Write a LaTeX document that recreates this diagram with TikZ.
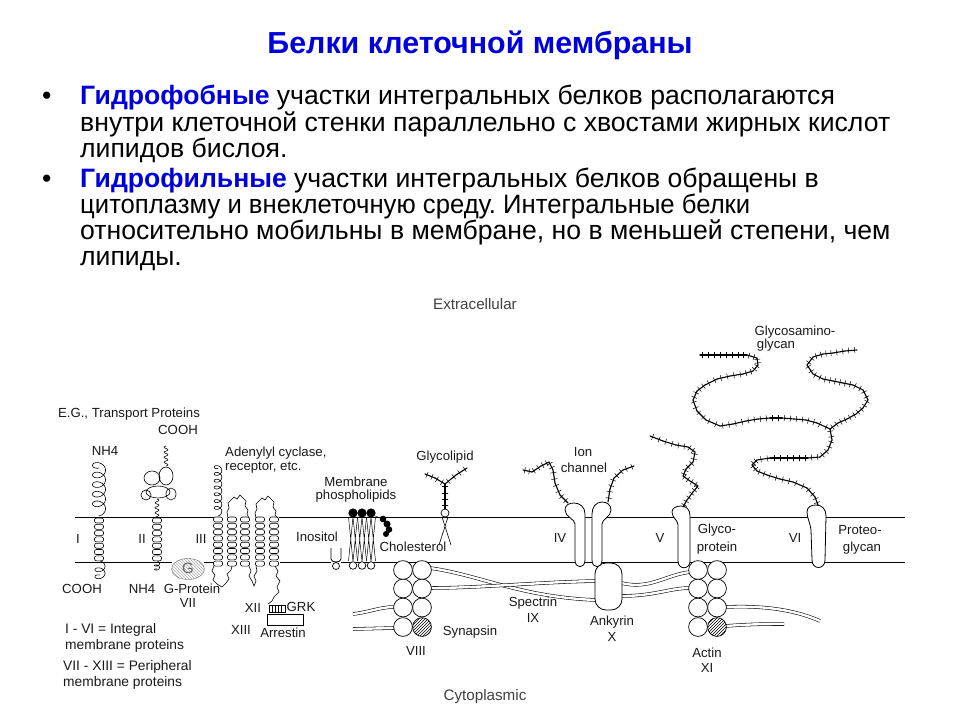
\documentclass[tikz,border=0pt]{standalone}
\usepackage{fontspec}
\setmainfont{Liberation Sans}
\usetikzlibrary{patterns}
\frenchspacing
\definecolor{hlblue}{RGB}{0,0,220}
% stack of helix turns: x, top y, number of turns
\newcommand{\helix}[3]{\foreach \k in {1,...,#3}{\draw[fill=white,line width=0.6pt,rounded corners=2pt] (#1-4.5,#2+6.3*\k-6.3) rectangle ++(9,5);}}
% sugar chain with side ticks, points given as {x,y},{x,y},...
\newcommand{\chain}[1]{\foreach \p [remember=\p as \q (initially {0,0}),count=\i] in {#1}{\ifnum\i>1 \draw[chainline] (\q) -- (\p) node[sugartick,pos=.3]{} node[sugartick,pos=.8]{};\fi}}
\begin{document}
\begin{tikzpicture}
	[x=1pt,y=-1pt,
	lbl/.style={font=\fontsize{13.2}{14}\selectfont,text=black!90,inner sep=0pt},
	body/.style={font=\fontsize{26.6}{28}\selectfont,anchor=base west,inner sep=0pt},
	coilline/.style={line width=0.6pt},
	chainline/.style={line width=1.1pt,line cap=round},
	sugartick/.style={draw,line width=0.5pt,rectangle,inner sep=0pt,minimum width=0pt,minimum height=6pt,sloped},
	fiber/.style={double=white,double distance=2.4pt,line width=0.55pt},
	rod/.style={fill=white,line width=0.8pt},
	bead/.style={fill=white,line width=0.7pt}]
    \useasboundingbox (0,0) rectangle (960,720);
    % title and text
    \node[font=\fontsize{30.4}{32}\selectfont\bfseries,text=hlblue] (title) at (480,45) {Белки клеточной мембраны};
    \node[body] (b1) at (42,104) {•};
    \node[body] (t1) at (80,104) {{\color{hlblue}\textbf{Гидрофобные}} участки интегральных белков располагаются};
    \node[body] (t2) at (80,131) {внутри клеточной стенки параллельно с хвостами жирных кислот};
    \node[body] (t3) at (80,157) {липидов бислоя.};
    \node[body] (b2) at (42,187) {•};
    \node[body] (t4) at (80,187) {{\color{hlblue}\textbf{Гидрофильные}} участки интегральных белков обращены в};
    \node[body,xscale=0.965,transform shape] (t5) at (80,213) {цитоплазму и внеклеточную среду. Интегральные белки};
    \node[body] (t6) at (80,239) {относительно мобильны в мембране, но в меньшей степени, чем};
    \node[body] (t7) at (80,265) {липиды.};
    % membrane
    \draw[line width=0.8pt] (75,517) -- (214,517) (279,517) -- (905,517);
    \draw[line width=0.8pt] (75,562) -- (172,562) (204,562) -- (214,562) (280,562) -- (331,562) (341,562) -- (905,562);
    % spectrin fibres
    \draw[fiber] (430,568) .. controls (480,575) and (520,597) .. (596,600);
    \draw[fiber] (430,588) .. controls (480,588) and (540,582) .. (596,581);
    \draw[fiber] (621,583) .. controls (650,590) and (665,575) .. (690,572);
    \draw[fiber] (621,596) .. controls (655,596) and (670,588) .. (690,588);
    \draw[fiber] (353,614) .. controls (370,612) and (380,607) .. (394,607);
    \draw[fiber] (353,629) -- (394,628);
    \draw[fiber] (726,607) .. controls (770,605) and (800,612) .. (820,621);
    \draw[fiber] (726,626) .. controls (750,624) and (770,624) .. (784,624);
    % synapsin and actin
    \foreach \cx in {403,422}{\foreach \cy in {570,588.5,607.5,627}{\draw[bead] (\cx,\cy) circle (9.4);}}
    \fill[pattern=north east lines] (422,627) circle (9.4);
    \foreach \cx in {698,717}{\foreach \cy in {570,588.5,607.5,627}{\draw[bead] (\cx,\cy) circle (9.4);}}
    \fill[pattern=north east lines] (717,627) circle (9.4);
    % ankyrin
    \draw[rod,rounded corners=11pt] (595,563) rectangle (622,610);
    % ion channel, glycoprotein, proteoglycan
    \draw[rod] (575,560) -- (575,524) .. controls (575,519) and (565,517) .. (565,510) .. controls (565,505) and (569,503) .. (574,503) .. controls (580,503) and (585,507) .. (585,514) -- (585,560) .. controls (585,569) and (575,569) .. (575,560) -- cycle;
    \draw[rod] (602,560) -- (602,524) .. controls (602,519) and (611,517) .. (611,510) .. controls (611,505) and (607,502) .. (602,502) .. controls (596,502) and (592,507) .. (592,514) -- (592,560) .. controls (592,569) and (602,569) .. (602,560) -- cycle;
    \draw[rod] (678,561) -- (678,525) .. controls (678,520) and (672,518) .. (672,512) .. controls (672,508) and (676,506) .. (681,506) .. controls (687,506) and (690,510) .. (690,516) -- (690,561) .. controls (690,570) and (678,570) .. (678,561) -- cycle;
    \draw[rod] (812,560) -- (811,530) .. controls (810,522) and (807,518) .. (807,512) .. controls (807,507) and (811,505) .. (816,505) .. controls (822,505) and (826,509) .. (826,516) -- (825,560) .. controls (825,570) and (812,570) .. (812,560) -- cycle;
    % sugar chains
    \chain{{568,503},{560,495},{555,483},{553,470},{549,462},{541,466},{532,472},{523,470}}
    \chain{{608,502},{610,489},{614,478},{623,470},{634,466}}
    \chain{{683,507},{687,500},{693,492},{698,486},{690,481},{683,476},{686,469},{693,462},{695,452},{688,447},{676,445},{663,441},{650,436}}
    \chain{{818,505},{815,497},{807,488},{793,482},{780,479},{767,475},{757,471},{752,465},{757,460},{770,458},{783,458},{796,458},{808,458},{820,457},{828,450},{832,440},{830,429},{817,423},{806,420},{794,419},{782,418},{770,418},{758,419},{746,421},{733,424},{720,426},{706,420},{697,411},{693,400},{697,391},{705,385},{717,379},{730,376},{743,374},{753,371},{758,365},{757,358},{747,355},{736,355},{724,355},{712,355},{700,355}}
    \chain{{830,429},{838,423},{847,419},{856,414},{863,408},{868,400},{863,390},{853,385},{843,383},{833,381},{823,379},{813,374},{807,365},{813,357},{823,354},{833,353},{845,351},{857,350}}
    % glycolipid
    \chain{{445,509},{445,497},{445,484}}
    \chain{{445,484},{435,478},{425,474}}
    \chain{{445,484},{456,475},{467,468}}
    \draw[line width=0.6pt] (442,517) -- (451,545) (448,517) -- (439,545);
    \draw[bead] (445,513) circle (4);
    % phospholipids, inositol, cholesterol
    \foreach \hx in {353,362,371}{\draw[line width=0.5pt] (\hx,517) -- (\hx-4.5,561) (\hx,517) -- (\hx+4.5,561) (\hx,561.7) -- (\hx-4.5,517) (\hx,561.7) -- (\hx+4.5,517);}
    \foreach \hx in {353,362,371}{\fill (\hx,513) circle (4.6); \draw[bead] (\hx,565.5) circle (3.8);}
    \draw[line width=0.8pt] (331,548) -- (331,559) .. controls (331,563) and (341,563) .. (341,559) -- (341,548);
    \draw[bead] (336,566) circle (3.5);
    \fill (383,519) circle (3.3) (387,524) circle (3.5) (389,529.5) circle (3.3) (386,534) circle (3);
    \draw[dashed] (375,516) -- (381,518);
    % protein I
    \draw[coilline] plot[domain=0:1800,samples=200,variable=\t] ({99+6.5*sin(\t)},{516-\t/360*9.6+5*cos(\t)-5});
    \helix{99}{518}{7}
    \draw[coilline] plot[domain=0:720,samples=80,variable=\t] ({100+5*sin(\t)},{561+\t/360*7-3.5*cos(\t)+3.5});
    % protein II
    \draw[coilline] plot[domain=0:20,samples=41,variable=\t] ({166+2*sin(\t*72)},{466-\t});
    \draw[coilline] (152,478) ellipse (8 and 7) (166,476) ellipse (7 and 9) (158,492) ellipse (12 and 6) (146,495) ellipse (5 and 5) (171,494) ellipse (5 and 6);
    \draw[coilline] plot[domain=0:18,samples=37,variable=\t] ({157+2*sin(\t*72)},{499+\t});
    \helix{157}{518}{7}
    \draw[coilline] plot[domain=0:720,samples=50,variable=\t] ({157+2.5*sin(\t)},{561+\t/360*4-1.5*cos(\t)+1.5});
    % protein III
    \draw[coilline] plot[domain=0:2520,samples=220,variable=\t] ({218+3.8*sin(\t)},{516-\t/360*6.8+3*cos(\t)-3});
    \foreach \cx in {218,232,245,260,274}{\helix{\cx}{517}{8}}
    \draw[coilline] (228,518) -- (227,512) -- (229,508) -- (228,503) -- (231,500) -- (234,497) -- (237,499) -- (240,495) -- (243,498) -- (246,501) -- (245,506) -- (248,510) -- (247,514) -- (249,518);
    \draw[coilline] (256,518) -- (255,513) -- (257,509) -- (256,504) -- (259,501) -- (262,498) -- (265,500) -- (268,496) -- (271,499) -- (274,502) -- (273,507) -- (276,511) -- (275,515) -- (278,518);
    \draw[coilline] (249,566) -- (251,571) -- (249,576) -- (252,581) -- (254,586) -- (256,581) -- (254,576) -- (257,571) -- (256,566);
    \draw[coilline] (214,566) -- (212,571) -- (215,575) -- (213,580) -- (217,584) -- (222,587) -- (226,583) -- (229,579) -- (227,574) -- (231,570) -- (232,566);
    \draw[coilline] (275,566) -- (278,571) -- (276,576) -- (280,581) -- (277,587) -- (279,592) -- (274,597) -- (272,601) -- (268,604);
    % G-protein, GRK, arrestin
    \draw[black!55,pattern=north west lines,pattern color=black!35] (188,569) ellipse (16.5 and 10.5);
    \node[lbl,text=black!60,font=\fontsize{15}{16}\selectfont] (gp) at (188,568) {G};
    \draw[line width=0.5pt] (269,605) rectangle (285,612);
    \foreach \gx in {272,275,278,281}{\draw[line width=0.4pt] (\gx,605) -- (\gx,612);}
    \draw[line width=0.6pt] (267,614) rectangle (303,625);
    % labels
    \node[lbl,font=\fontsize{15.2}{16}\selectfont,text=black!75] (extra) at (475,304) {Extracellular};
    \node[lbl,font=\fontsize{15.2}{16}\selectfont,text=black!75] (cyto) at (485,697) {Cytoplasmic};
    \node[lbl] (transport) at (129,414) {E.G., Transport Proteins};
    \node[lbl] (cooh1) at (178,430) {COOH};
    \node[lbl] (nh1) at (105,451) {NH4};
    \node[lbl,anchor=west] (adenyl) at (225,453) {Adenylyl cyclase,};
    \node[lbl,anchor=west] (recept) at (225,468) {receptor, etc.};
    \node[lbl] (membr) at (356,482) {Membrane};
    \node[lbl] (phosph) at (356,496) {phospholipids};
    \node[lbl] (glycol) at (445,457) {Glycolipid};
    \node[lbl] (ion) at (583,452) {Ion};
    \node[lbl] (channel) at (584,468) {channel};
    \node[lbl] (gag1) at (795,332) {Glycosamino-};
    \node[lbl] (gag2) at (776,345) {glycan};
    \node[lbl] (pI) at (78,539) {I};
    \node[lbl] (pII) at (142,539) {II};
    \node[lbl] (pIII) at (201,539) {III};
    \node[lbl] (inos) at (317,537) {Inositol};
    \node[lbl] (chol) at (413,547) {Cholesterol};
    \node[lbl] (pIV) at (560,538) {IV};
    \node[lbl] (pV) at (660,538) {V};
    \node[lbl] (glp1) at (717,530) {Glyco-};
    \node[lbl] (glp2) at (717,548) {protein};
    \node[lbl] (pVI) at (795,538) {VI};
    \node[lbl] (prg1) at (860,530) {Proteo-};
    \node[lbl] (prg2) at (862,548) {glycan};
    \node[lbl] (cooh2) at (82,589) {COOH};
    \node[lbl] (nh2) at (142,589) {NH4};
    \node[lbl] (gprot) at (192,589) {G-Protein};
    \node[lbl] (pVII) at (188,603) {VII};
    \node[lbl] (pXII) at (253,608) {XII};
    \node[lbl] (grk) at (301,607) {GRK};
    \node[lbl] (pXIII) at (241,630) {XIII};
    \node[lbl] (arrest) at (283,633) {Arrestin};
    \node[lbl,anchor=west,font=\fontsize{13.8}{14}\selectfont] (leg1) at (65,630) {I - VI = Integral};
    \node[lbl,anchor=west,font=\fontsize{13.8}{14}\selectfont] (leg2) at (65,646) {membrane proteins};
    \node[lbl,anchor=west,font=\fontsize{13.8}{14}\selectfont] (leg3) at (63,667) {VII - XIII = Peripheral};
    \node[lbl,anchor=west,font=\fontsize{13.8}{14}\selectfont] (leg4) at (63,683) {membrane proteins};
    \node[lbl] (spec) at (533,603) {Spectrin};
    \node[lbl] (pIX) at (533,618) {IX};
    \node[lbl] (syn) at (470,632) {Synapsin};
    \node[lbl] (pVIII) at (416,651) {VIII};
    \node[lbl] (ank) at (612,622) {Ankyrin};
    \node[lbl] (pX) at (612,637) {X};
    \node[lbl] (actin) at (707,653) {Actin};
    \node[lbl] (pXI) at (707,668) {XI};
\end{tikzpicture}
\end{document}
